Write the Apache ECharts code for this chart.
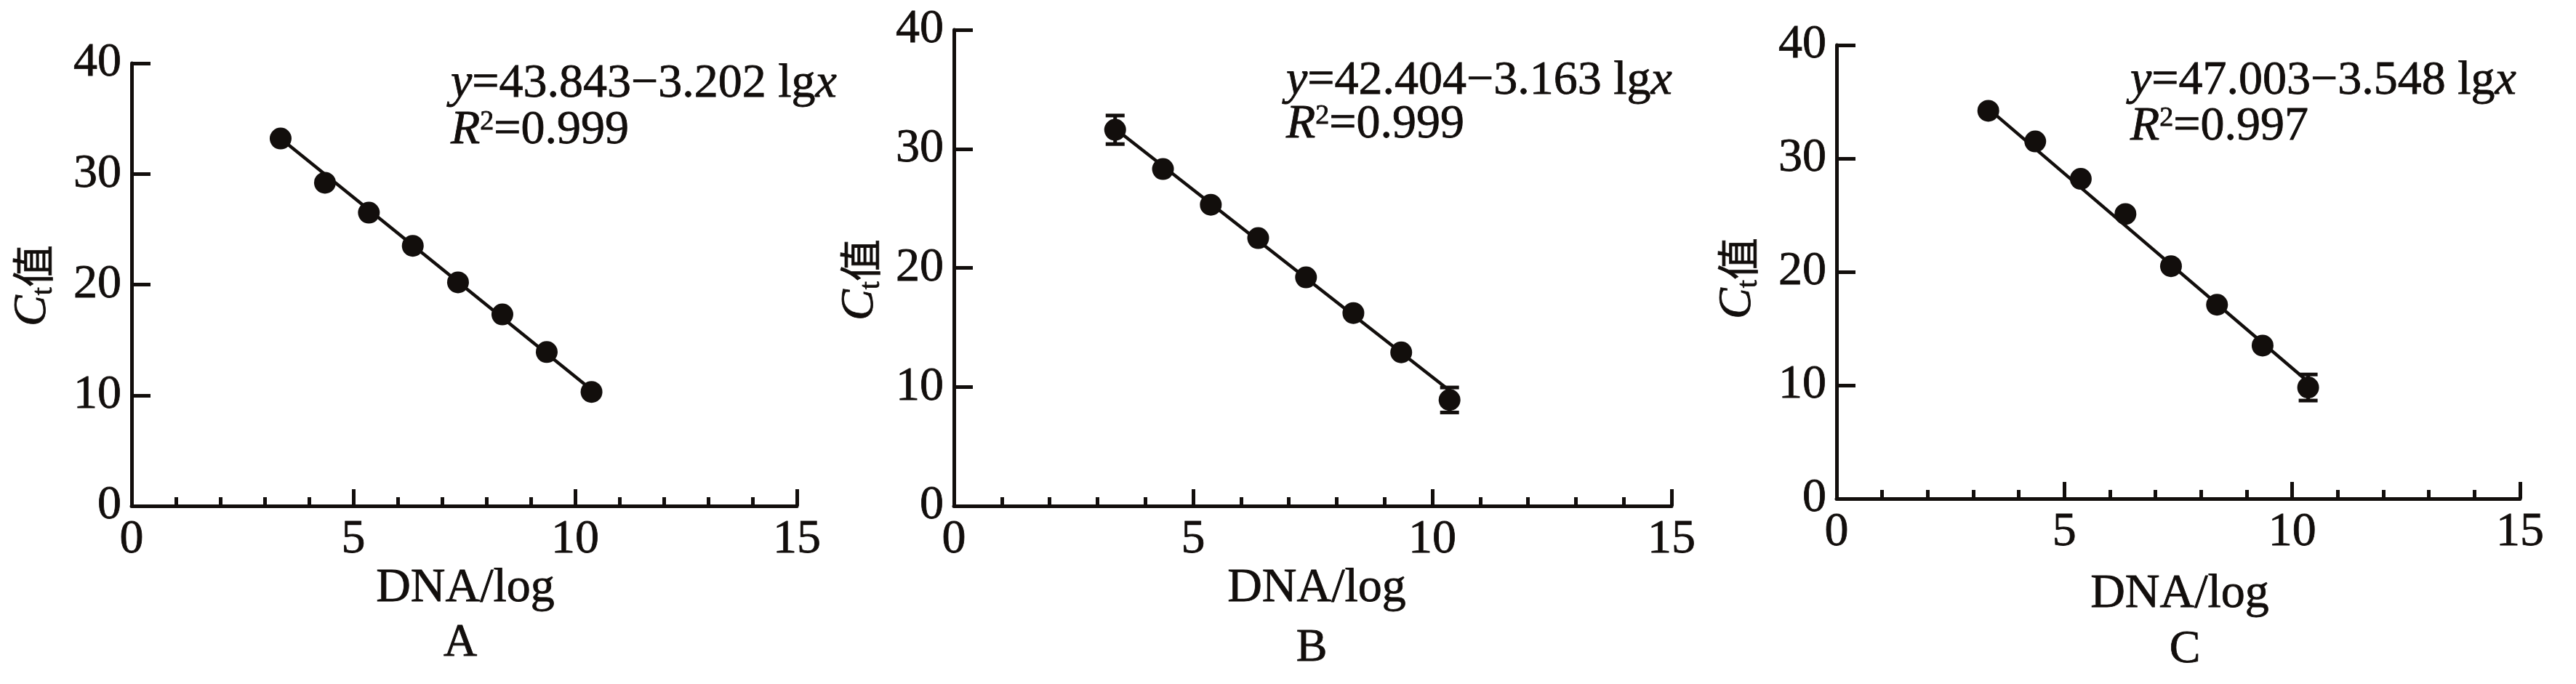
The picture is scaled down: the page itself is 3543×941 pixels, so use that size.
<!DOCTYPE html>
<html>
<head>
<meta charset="utf-8">
<script src="https://cdn.jsdelivr.net/npm/echarts@6/dist/echarts.min.js"></script>
<style>
html,body{margin:0;padding:0;background:#fff;}
#chart{width:3543px;height:941px;}
</style>
</head>
<body>
<div id="chart"></div>
<script>
// ---- data ----
const panelLetters = ['A', 'B', 'C'];
const equations = ['=43.843\u22123.202 lg', '=42.404\u22123.163 lg', '=47.003\u22123.548 lg'];
const r2Values = ['=0.999', '=0.999', '=0.997'];
const xTitle = 'DNA/log';

const xA = [3.36, 4.36, 5.35, 6.34, 7.36, 8.36, 9.36, 10.37];
const ctA = [33.2, 29.2, 26.5, 23.5, 20.2, 17.3, 13.9, 10.3];
const errA = [0, 0, 0, 0, 0, 0, 0, 0];
const fitA = [[3.36, 33.2], [10.37, 10.5]];

const xB = [3.37, 4.37, 5.37, 6.36, 7.36, 8.35, 9.35, 10.36];
const ctB = [31.6, 28.3, 25.3, 22.5, 19.2, 16.2, 12.9, 8.9];
const errB = [1.2, 0, 0, 0, 0, 0, 0, 1.05];
const fitB = [[3.37, 31.7], [10.36, 9.7]];

const xC = [3.33, 4.36, 5.36, 6.34, 7.34, 8.35, 9.35, 10.35];
const ctC = [34.2, 31.5, 28.2, 25.1, 20.5, 17.1, 13.5, 9.8];
const errC = [0, 0, 0, 0, 0, 0, 0, 1.15];
const fitC = [[3.33, 34.4], [10.35, 10.3]];

const xTicks = {min: 0, max: 15, interval: 5};
const yTicks = {min: 0, max: 40, interval: 10};

// ---- layout / style ----
const INK = '#120e0c';
const SERIF = "'Liberation Serif', 'Times New Roman', serif";
const CJK = "'Noto Sans CJK SC', sans-serif";
const grids = [
  {left: 181, top: 87, width: 915, height: 609},
  {left: 1312, top: 41, width: 987, height: 655},
  {left: 2526, top: 62, width: 940, height: 624}
];
const eqPos = [
  {x: 620, y1: 116, y2: 180},
  {x: 1769, y1: 112, y2: 172},
  {x: 2930, y1: 112, y2: 175}
];
const yLabelPos = [{x: 45, y: 393}, {x: 1183, y: 385}, {x: 2390, y: 383}];
const xTitlePos = [{x: 640, y: 810}, {x: 1811, y: 810}, {x: 2998, y: 818}];
const letterPos = [{x: 633, y: 885}, {x: 1804, y: 892}, {x: 3005, y: 894}];

const xs = [xA, xB, xC], cts = [ctA, ctB, ctC], errs = [errA, errB, errC], fits = [fitA, fitB, fitC];

const labelStyle = {color: INK, fontFamily: SERIF, fontSize: 66, margin: 14,
  textBorderColor: INK, textBorderWidth: 0.8};

const xAxes = grids.map((g, i) => ({
  type: 'value', gridIndex: i, min: xTicks.min, max: xTicks.max, interval: xTicks.interval,
  axisLine: {show: true, lineStyle: {color: INK, width: 5}},
  axisTick: {show: true, inside: true, length: 23, lineStyle: {color: INK, width: 5}},
  minorTick: {show: true, splitNumber: 5, length: 12, lineStyle: {color: INK, width: 5}},
  splitLine: {show: false},
  axisLabel: Object.assign({}, labelStyle)
}));
const yAxes = grids.map((g, i) => ({
  type: 'value', gridIndex: i, min: yTicks.min, max: yTicks.max, interval: yTicks.interval,
  axisLine: {show: true, lineStyle: {color: INK, width: 5}},
  axisTick: {show: true, inside: true, length: 26, lineStyle: {color: INK, width: 5}},
  splitLine: {show: false},
  axisLabel: Object.assign({}, labelStyle)
}));

const series = [];
for (let i = 0; i < 3; i++) {
  series.push({
    type: 'line', xAxisIndex: i, yAxisIndex: i, data: fits[i], showSymbol: false,
    lineStyle: {color: INK, width: 4.5, opacity: 1}, z: 2, silent: true, animation: false
  });
  series.push({
    type: 'custom', xAxisIndex: i, yAxisIndex: i, z: 3, animation: false,
    data: xs[i].map((x, k) => [x, cts[i][k], errs[i][k]]).filter(d => d[2] > 0),
    renderItem: function (params, api) {
      const x = api.value(0), y = api.value(1), e = api.value(2);
      const top = api.coord([x, y + e]);
      const bot = api.coord([x, y - e]);
      const hw = 13;
      const st = {stroke: INK, lineWidth: 5};
      return {type: 'group', children: [
        {type: 'line', shape: {x1: top[0], y1: top[1], x2: bot[0], y2: bot[1]}, style: st},
        {type: 'line', shape: {x1: top[0] - hw, y1: top[1], x2: top[0] + hw, y2: top[1]}, style: st},
        {type: 'line', shape: {x1: bot[0] - hw, y1: bot[1], x2: bot[0] + hw, y2: bot[1]}, style: st}
      ]};
    }
  });
  series.push({
    type: 'scatter', xAxisIndex: i, yAxisIndex: i, symbol: 'circle', symbolSize: 30,
    itemStyle: {color: INK, opacity: 1}, z: 4, animation: false,
    data: xs[i].map((x, k) => [x, cts[i][k]])
  });
}

function txt(extra) { return Object.assign({fill: INK, stroke: INK, lineWidth: 0.8}, extra); }

const graphics = [];
for (let i = 0; i < 3; i++) {
  graphics.push({
    type: 'text', x: eqPos[i].x, y: eqPos[i].y1,
    style: txt({
      text: '{i|y}{n|' + equations[i] + '}{i|x}', align: 'left', verticalAlign: 'middle',
      textAlign: 'left', textVerticalAlign: 'middle',
      rich: {
        i: {fontFamily: SERIF, fontStyle: 'italic', fontSize: 66},
        n: {fontFamily: SERIF, fontSize: 66}
      }
    })
  });
  graphics.push({
    type: 'text', x: eqPos[i].x, y: eqPos[i].y2,
    style: txt({
      text: '{i|R}{s|2}{n|' + r2Values[i] + '}', align: 'left', verticalAlign: 'middle',
      textAlign: 'left', textVerticalAlign: 'middle',
      rich: {
        i: {fontFamily: SERIF, fontStyle: 'italic', fontSize: 66, lineHeight: 70},
        s: {fontFamily: SERIF, fontSize: 38, verticalAlign: 'top', lineHeight: 70, padding: [4, 0, 0, 0]},
        n: {fontFamily: SERIF, fontSize: 66, lineHeight: 70}
      }
    })
  });
  graphics.push({
    type: 'text', x: yLabelPos[i].x, y: yLabelPos[i].y, rotation: Math.PI / 2,
    style: txt({
      text: '{c|C}{t|t}{z|值}', align: 'center', verticalAlign: 'middle',
      textAlign: 'center', textVerticalAlign: 'middle',
      rich: {
        c: {fontFamily: SERIF, fontStyle: 'italic', fontSize: 64, lineHeight: 70},
        t: {fontFamily: SERIF, fontSize: 40, verticalAlign: 'bottom', lineHeight: 70},
        z: {fontFamily: CJK, fontSize: 58, lineHeight: 70}
      }
    })
  });
  graphics.push({
    type: 'text', x: xTitlePos[i].x, y: xTitlePos[i].y,
    style: txt({text: xTitle, font: '66px ' + SERIF, align: 'center', verticalAlign: 'middle',
      textAlign: 'center', textVerticalAlign: 'middle'})
  });
  graphics.push({
    type: 'text', x: letterPos[i].x, y: letterPos[i].y,
    style: txt({text: panelLetters[i], font: '64px ' + SERIF, align: 'center', verticalAlign: 'middle',
      textAlign: 'center', textVerticalAlign: 'middle'})
  });
}

const chart = echarts.init(document.getElementById('chart'), null, {renderer: 'canvas'});
chart.setOption({
  backgroundColor: '#ffffff',
  animation: false,
  grid: grids,
  xAxis: xAxes,
  yAxis: yAxes,
  series: series,
  graphic: graphics
});
</script>
</body>
</html>
